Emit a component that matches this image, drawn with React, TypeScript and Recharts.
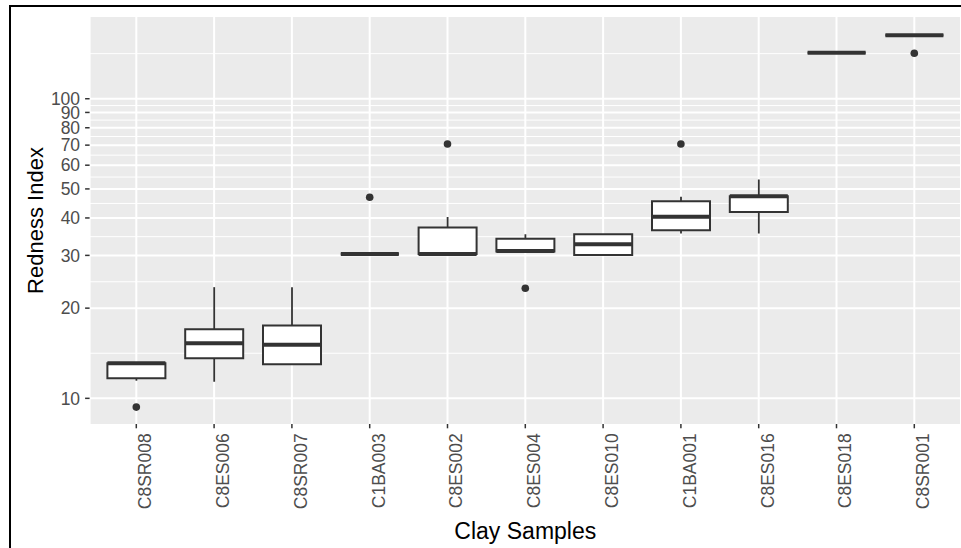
import React from 'react';
import { ComposedChart, Bar, Line, XAxis, YAxis, CartesianGrid } from 'recharts';

const categories = ['C8SR008', 'C8ES006', 'C8SR007', 'C1BA003', 'C8ES002', 'C8ES004', 'C8ES010', 'C1BA001', 'C8ES016', 'C8ES018', 'C8SR001'];
const whiskerLow = [11.45, 11.36, 13.0, 30.3, 30.3, 30.9, 30.1, 35.5, 35.5, 142.4, 162.8];
const lowerQuartile = [11.66, 13.6, 13.0, 30.3, 30.3, 30.9, 30.1, 36.4, 41.9, 142.4, 162.8];
const medians = [13.1, 15.26, 15.1, 30.3, 30.3, 31.0, 32.7, 40.4, 47.3, 142.4, 162.8];
const upperQuartile = [13.1, 17.0, 17.5, 30.3, 37.2, 34.1, 35.3, 45.5, 47.3, 142.4, 162.8];
const whiskerHigh = [13.1, 23.5, 23.5, 30.3, 40.3, 35.3, 35.3, 47.1, 53.8, 142.4, 162.8];
const outliers: (number | null)[] = [9.35, null, null, 46.9, 70.6, 23.3, null, 70.6, null, null, 141.8];

const yTicks = [10, 20, 30, 40, 50, 60, 70, 80, 90, 100];
const yMinorLines = [14.14, 24.49, 34.64, 44.72, 54.77, 64.81, 74.83, 84.85, 94.87, 141.4];
const yDomain = [8.21, 187.4];

const data = categories.map((name, i) => ({
  name,
  lo: whiskerLow[i],
  q1: lowerQuartile[i],
  med: medians[i],
  q3: upperQuartile[i],
  hi: whiskerHigh[i],
  out: outliers[i],
}));

const INK = '#333333';
const FONT = '"Liberation Sans", Arial, sans-serif';

const norm = (p: any) => {
  let y = p.y;
  let h = p.height;
  if (h < 0) {
    y = y + h;
    h = -h;
  }
  return { x: p.x, w: p.width, y, h };
};

const WhiskerShape = (p: any) => {
  const { x, w, y, h } = norm(p);
  if (!isFinite(y) || !isFinite(h)) return <g />;
  return <line x1={x + w / 2} x2={x + w / 2} y1={y} y2={y + h} stroke={INK} strokeWidth={1.8} />;
};

const BoxShape = (p: any) => {
  const { x, w, y, h } = norm(p);
  if (!isFinite(y) || !isFinite(h)) return <g />;
  return (
    <path
      d={`M${x},${y}H${x + w}V${y + h}H${x}Z`}
      fill="#FFFFFF"
      stroke={INK}
      strokeWidth={2}
    />
  );
};

const MedianShape = (p: any) => {
  const { x, w, y } = norm(p);
  if (!isFinite(y)) return <g />;
  return <line x1={x} x2={x + w} y1={y} y2={y} stroke={INK} strokeWidth={4} />;
};

const OutlierDot = (p: any) => {
  const { cx, cy, index } = p;
  if (cy == null || !isFinite(cy) || p.value == null) return <g key={`o${index}`} />;
  return <circle key={`o${index}`} cx={cx} cy={cy} r={3.8} fill={INK} />;
};

const XTick = (p: any) => {
  const { x, y, payload } = p;
  const bx = x + 15;
  return (
    <text
      x={bx}
      y={y}
      transform={`rotate(-90, ${bx}, ${y})`}
      textAnchor="end"
      fill="#4D4D4D"
      fontSize={17.5}
      fontFamily={FONT}
    >
      {payload.value}
    </text>
  );
};

export default function App() {
  return (
    <div style={{ position: 'absolute', left: 0, top: 0, width: 961, height: 548, overflow: 'hidden', background: '#FFFFFF' }}>
      <div
        style={{
          position: 'absolute',
          left: 8.5,
          top: 5,
          width: 1200,
          height: 800,
          borderLeft: '2px solid #000',
          borderTop: '2px solid #000',
        }}
      />
      <div style={{ position: 'absolute', left: 0, top: 0 }}>
        <ComposedChart
          width={961}
          height={548}
          data={data}
          margin={{ top: 17, right: 0, bottom: 0, left: 0 }}
          barSize={58}
          barGap={-58}
        >
          <CartesianGrid
            horizontalValues={yMinorLines}
            vertical={false}
            stroke="#FFFFFF"
            strokeWidth={1}
            fill="#EBEBEB"
            fillOpacity={1}
          />
          <CartesianGrid
            horizontalValues={yTicks}
            stroke="#FFFFFF"
            strokeWidth={2}
          />
          <XAxis
            dataKey="name"
            type="category"
            height={124}
            interval={0}
            padding={{ left: 7.8, right: 7.8 }}
            axisLine={false}
            tickSize={4.3}
            tickMargin={5}
            tickLine={{ stroke: INK, strokeWidth: 1.5 }}
            tick={<XTick />}
            label={{
              value: 'Clay Samples',
              position: 'insideBottom',
              offset: 9,
              fill: '#000000',
              fontSize: 23,
              fontFamily: FONT,
            }}
          />
          <YAxis
            type="number"
            scale="log"
            domain={yDomain}
            allowDataOverflow
            ticks={yTicks}
            interval={0}
            width={89.6}
            axisLine={false}
            tickSize={4.5}
            tickMargin={5}
            tickLine={{ stroke: INK, strokeWidth: 1.5 }}
            tick={{ fill: '#4D4D4D', fontSize: 17.5, fontFamily: FONT }}
            label={{
              value: 'Redness Index',
              angle: -90,
              position: 'insideLeft',
              offset: 35,
              fill: '#000000',
              fontSize: 22,
              fontFamily: FONT,
              style: { textAnchor: 'middle' },
            }}
          />
          <Bar dataKey={(d: any) => [d.lo, d.hi]} barSize={58} shape={WhiskerShape} isAnimationActive={false} />
          <Bar dataKey={(d: any) => [d.q1, d.q3]} barSize={58} shape={BoxShape} isAnimationActive={false} />
          <Bar dataKey={(d: any) => [d.med, d.med]} barSize={58} shape={MedianShape} isAnimationActive={false} />
          <Line
            dataKey="out"
            stroke="none"
            dot={OutlierDot}
            activeDot={false}
            connectNulls={false}
            isAnimationActive={false}
          />
        </ComposedChart>
      </div>
    </div>
  );
}
